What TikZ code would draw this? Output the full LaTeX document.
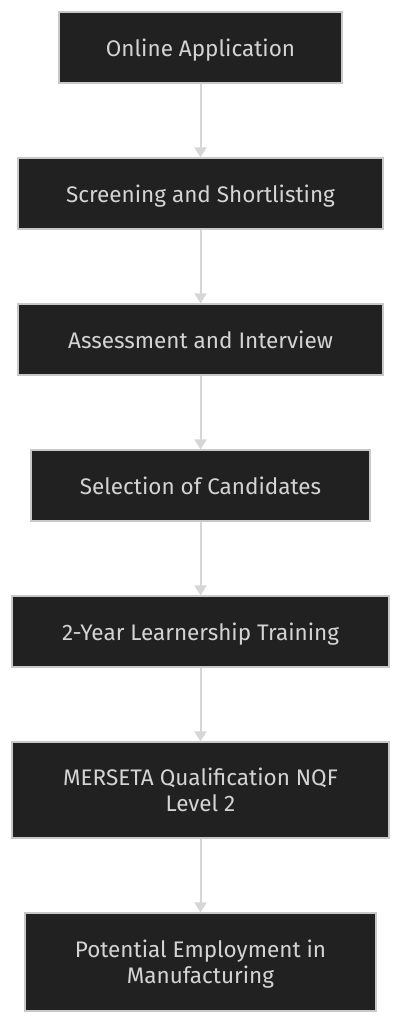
\documentclass[tikz,border=0pt]{standalone}
\usepackage{fontspec}
\setmainfont{Fira Sans}
\usetikzlibrary{arrows.meta}

\definecolor{boxfill}{HTML}{212121}
\definecolor{boxline}{HTML}{C8C8C8}
\definecolor{boxtext}{HTML}{D4D4D4}
\definecolor{flowline}{HTML}{D6D6D6}

\tikzset{
  stage/.style={draw=boxline, fill=boxfill, text=boxtext, line width=1.2pt,
    align=center, inner sep=0pt, minimum height=71pt, text depth=0pt,
    font=\fontsize{22.5}{26}\selectfont},
  flow/.style={draw=flowline, line width=2pt, -{Triangle[width=12pt,length=10pt]}}
}

\begin{document}
\begin{tikzpicture}[x=1pt, y=-1pt]
      \useasboundingbox (0,0) rectangle (402,1024);

      \node[stage, minimum width=283pt] (apply) at (200.5,47.5) {Online Application};
      \node[stage, minimum width=365pt] (screen) at (200.5,193.5) {Screening and Shortlisting};
      \node[stage, minimum width=365pt] (assess) at (200.5,339.5) {Assessment and Interview};
      \node[stage, minimum width=339pt] (select) at (200.5,485.5) {Selection of Candidates};
      \node[stage, minimum width=377pt] (train) at (200.5,631.5) {2-Year Learnership Training};
      \node[stage, minimum width=377pt, minimum height=96pt] (qualify) at (200.5,790) {MERSETA Qualification NQF\\Level 2};
      \node[stage, minimum width=351pt, minimum height=98pt] (employ) at (200.5,962) {Potential Employment in\\Manufacturing};

      \draw[flow] (apply) -- (screen);
      \draw[flow] (screen) -- (assess);
      \draw[flow] (assess) -- (select);
      \draw[flow] (select) -- (train);
      \draw[flow] (train) -- (qualify);
      \draw[flow] (qualify) -- (employ);

\end{tikzpicture}
\end{document}
